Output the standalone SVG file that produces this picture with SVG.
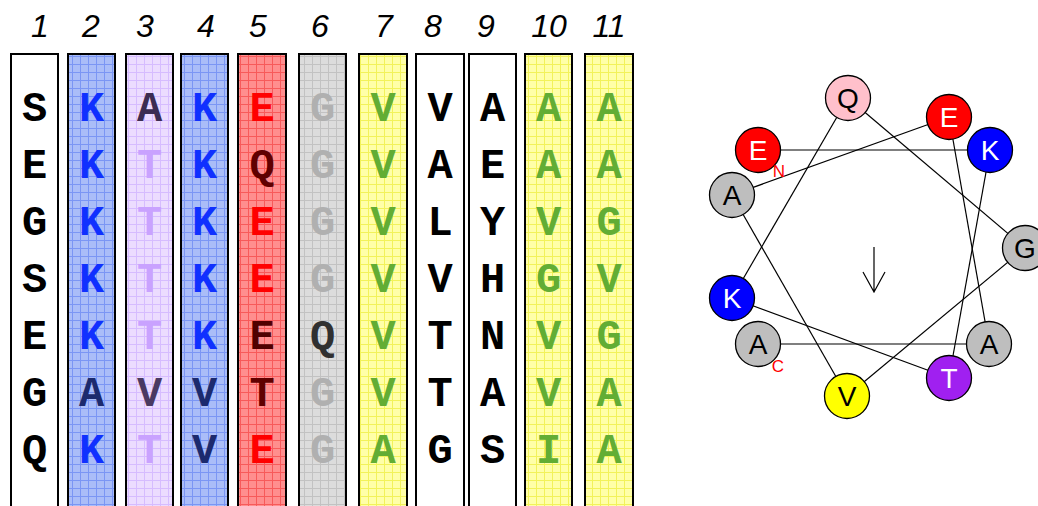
<svg xmlns="http://www.w3.org/2000/svg" width="1038" height="506" viewBox="0 0 1038 506">
<style>
.num{font-family:"Liberation Sans",Arial,sans-serif;font-style:italic;font-size:32px;fill:#000;text-anchor:middle}
.col{stroke:#000;stroke-width:2}
.aa{font-family:"Liberation Mono","Courier New",monospace;font-weight:bold;font-size:42px;text-anchor:middle}
.res{stroke:#000;stroke-width:1.3}
.rl{font-family:"Liberation Sans",Arial,sans-serif;font-size:28px;text-anchor:middle}
.term{font-family:"Liberation Sans",Arial,sans-serif;font-size:17px;fill:#ff0000;text-anchor:middle}
.lk{stroke:#000;stroke-width:1.2;fill:none}
</style>
<defs>
<pattern id="pBlue" patternUnits="userSpaceOnUse" width="8" height="8"><rect width="8" height="8" fill="#aabdf8"/><path d="M0 0.5H8M0.5 0V8" stroke="#7b96f4" stroke-width="1"/></pattern>
<pattern id="pPurple" patternUnits="userSpaceOnUse" width="8" height="8"><rect width="8" height="8" fill="#ecdcff"/><path d="M0 0.5H8M0.5 0V8" stroke="#d6bcff" stroke-width="1"/></pattern>
<pattern id="pRed" patternUnits="userSpaceOnUse" width="8" height="8"><rect width="8" height="8" fill="#ff8e8e"/><path d="M0 0.5H8M0.5 0V8" stroke="#f75a5a" stroke-width="1"/></pattern>
<pattern id="pGray" patternUnits="userSpaceOnUse" width="8" height="8"><rect width="8" height="8" fill="#dcdcdc"/><path d="M0 0.5H8M0.5 0V8" stroke="#c2c2c2" stroke-width="1"/></pattern>
<pattern id="pYellow" patternUnits="userSpaceOnUse" width="8" height="8"><rect width="8" height="8" fill="#ffffa8"/><path d="M0 0.5H8M0.5 0V8" stroke="#f2f25a" stroke-width="1"/></pattern>
</defs>
<rect width="1038" height="506" fill="#fff"/>

<g id="numbers">
<text class="num" x="40" y="37">1</text>
<text class="num" x="91" y="37">2</text>
<text class="num" x="145" y="37">3</text>
<text class="num" x="206" y="37">4</text>
<text class="num" x="258" y="37">5</text>
<text class="num" x="320" y="37">6</text>
<text class="num" x="384" y="37">7</text>
<text class="num" x="433" y="37">8</text>
<text class="num" x="486" y="37">9</text>
<text class="num" x="549" y="37">10</text>
<text class="num" x="609" y="37">11</text>
</g>

<g id="col1">
<rect class="col" x="11" y="54" width="47" height="470" fill="#fff"/>
<g class="aa" fill="#000">
<text x="34.5" y="121">S</text><text x="34.5" y="178">E</text><text x="34.5" y="235">G</text><text x="34.5" y="292">S</text><text x="34.5" y="349">E</text><text x="34.5" y="406">G</text><text x="34.5" y="463">Q</text>
</g>
</g>
<g id="col2">
<rect class="col" x="68" y="54" width="47" height="470" fill="url(#pBlue)"/>
<g class="aa" fill="#1030ff">
<text x="91.5" y="121">K</text><text x="91.5" y="178">K</text><text x="91.5" y="235">K</text><text x="91.5" y="292">K</text><text x="91.5" y="349">K</text><text x="91.5" y="406" fill="#1c2a6e">A</text><text x="91.5" y="463">K</text>
</g>
</g>
<g id="col3">
<rect class="col" x="126" y="54" width="47" height="470" fill="url(#pPurple)"/>
<g class="aa" fill="#c9a2ff">
<text x="149.5" y="121" fill="#3c2c52">A</text><text x="149.5" y="178">T</text><text x="149.5" y="235">T</text><text x="149.5" y="292">T</text><text x="149.5" y="349">T</text><text x="149.5" y="406" fill="#4a3a62">V</text><text x="149.5" y="463">T</text>
</g>
</g>
<g id="col4">
<rect class="col" x="181" y="54" width="47" height="470" fill="url(#pBlue)"/>
<g class="aa" fill="#1030ff">
<text x="204.5" y="121">K</text><text x="204.5" y="178">K</text><text x="204.5" y="235">K</text><text x="204.5" y="292">K</text><text x="204.5" y="349">K</text><text x="204.5" y="406" fill="#1c2a6e">V</text><text x="204.5" y="463" fill="#1c2a6e">V</text>
</g>
</g>
<g id="col5">
<rect class="col" x="238" y="54" width="48" height="470" fill="url(#pRed)"/>
<g class="aa" fill="#ff0000">
<text x="262" y="121">E</text><text x="262" y="178" fill="#600000">Q</text><text x="262" y="235">E</text><text x="262" y="292">E</text><text x="262" y="349" fill="#500000">E</text><text x="262" y="406" fill="#600000">T</text><text x="262" y="463">E</text>
</g>
</g>
<g id="col6">
<rect class="col" x="299" y="54" width="47" height="470" fill="url(#pGray)"/>
<g class="aa" fill="#b0b0b0">
<text x="322.5" y="121">G</text><text x="322.5" y="178">G</text><text x="322.5" y="235">G</text><text x="322.5" y="292">G</text><text x="322.5" y="349" fill="#303030">Q</text><text x="322.5" y="406">G</text><text x="322.5" y="463">G</text>
</g>
</g>
<g id="col7">
<rect class="col" x="359" y="54" width="48" height="470" fill="url(#pYellow)"/>
<g class="aa" fill="#62ad34">
<text x="383" y="121">V</text><text x="383" y="178">V</text><text x="383" y="235">V</text><text x="383" y="292">V</text><text x="383" y="349">V</text><text x="383" y="406">V</text><text x="383" y="463">A</text>
</g>
</g>
<g id="col8">
<rect class="col" x="416" y="54" width="48" height="470" fill="#fff"/>
<g class="aa" fill="#000">
<text x="440" y="121">V</text><text x="440" y="178">A</text><text x="440" y="235">L</text><text x="440" y="292">V</text><text x="440" y="349">T</text><text x="440" y="406">T</text><text x="440" y="463">G</text>
</g>
</g>
<g id="col9">
<rect class="col" x="469" y="54" width="47" height="470" fill="#fff"/>
<g class="aa" fill="#000">
<text x="492.5" y="121">A</text><text x="492.5" y="178">E</text><text x="492.5" y="235">Y</text><text x="492.5" y="292">H</text><text x="492.5" y="349">N</text><text x="492.5" y="406">A</text><text x="492.5" y="463">S</text>
</g>
</g>
<g id="col10">
<rect class="col" x="525" y="54" width="47" height="470" fill="url(#pYellow)"/>
<g class="aa" fill="#62ad34">
<text x="548.5" y="121">A</text><text x="548.5" y="178">A</text><text x="548.5" y="235">V</text><text x="548.5" y="292">G</text><text x="548.5" y="349">V</text><text x="548.5" y="406">V</text><text x="548.5" y="463">I</text>
</g>
</g>
<g id="col11">
<rect class="col" x="585" y="54" width="48" height="470" fill="url(#pYellow)"/>
<g class="aa" fill="#62ad34">
<text x="609" y="121">A</text><text x="609" y="178">A</text><text x="609" y="235">G</text><text x="609" y="292">V</text><text x="609" y="349">G</text><text x="609" y="406">A</text><text x="609" y="463">A</text>
</g>
</g>

<g id="connectors">
<line class="lk" x1="758" y1="150" x2="990" y2="150"/>
<line class="lk" x1="990" y1="150" x2="949" y2="378"/>
<line class="lk" x1="949" y1="378" x2="732" y2="298"/>
<line class="lk" x1="732" y1="298" x2="848" y2="98"/>
<line class="lk" x1="848" y1="98" x2="1025" y2="248"/>
<line class="lk" x1="1025" y1="248" x2="847" y2="396"/>
<line class="lk" x1="847" y1="396" x2="732" y2="195"/>
<line class="lk" x1="732" y1="195" x2="949" y2="117"/>
<line class="lk" x1="949" y1="117" x2="989" y2="344"/>
<line class="lk" x1="989" y1="344" x2="758" y2="344"/>
</g>

<g id="moment-arrow">
<path class="lk" d="M874 247V292M863 272L874 292L885 272"/>
</g>

<g id="r-Q"><circle class="res" cx="848" cy="98" r="22.5" fill="#ffc0cb"/><text class="rl" x="848" y="108" fill="#000">Q</text></g>
<g id="r-E2"><circle class="res" cx="949" cy="117" r="22.5" fill="#ff0000"/><text class="rl" x="949" y="127" fill="#fff">E</text></g>
<g id="r-E1"><circle class="res" cx="758" cy="150" r="22.5" fill="#ff0000"/><text class="rl" x="758" y="160" fill="#fff">E</text></g>
<g id="r-K1"><circle class="res" cx="990" cy="150" r="22.5" fill="#0000ff"/><text class="rl" x="990" y="160" fill="#fff">K</text></g>
<g id="r-A1"><circle class="res" cx="732" cy="195" r="22.5" fill="#bebebe"/><text class="rl" x="732" y="205" fill="#000">A</text></g>
<g id="r-G"><circle class="res" cx="1025" cy="248" r="22.5" fill="#bebebe"/><text class="rl" x="1025" y="258" fill="#000">G</text></g>
<g id="r-K2"><circle class="res" cx="732" cy="298" r="22.5" fill="#0000ff"/><text class="rl" x="732" y="308" fill="#fff">K</text></g>
<g id="r-A3"><circle class="res" cx="758" cy="344" r="22.5" fill="#bebebe"/><text class="rl" x="758" y="354" fill="#000">A</text></g>
<g id="r-A2"><circle class="res" cx="989" cy="344" r="22.5" fill="#bebebe"/><text class="rl" x="989" y="354" fill="#000">A</text></g>
<g id="r-T"><circle class="res" cx="949" cy="378" r="22.5" fill="#a020f0"/><text class="rl" x="949" y="388" fill="#fff">T</text></g>
<g id="r-V"><circle class="res" cx="847" cy="396" r="22.5" fill="#ffff00"/><text class="rl" x="847" y="406" fill="#000">V</text></g>

<g id="termini">
<text class="term" x="779" y="177">N</text>
<text class="term" x="778" y="372">C</text>
</g>
</svg>
